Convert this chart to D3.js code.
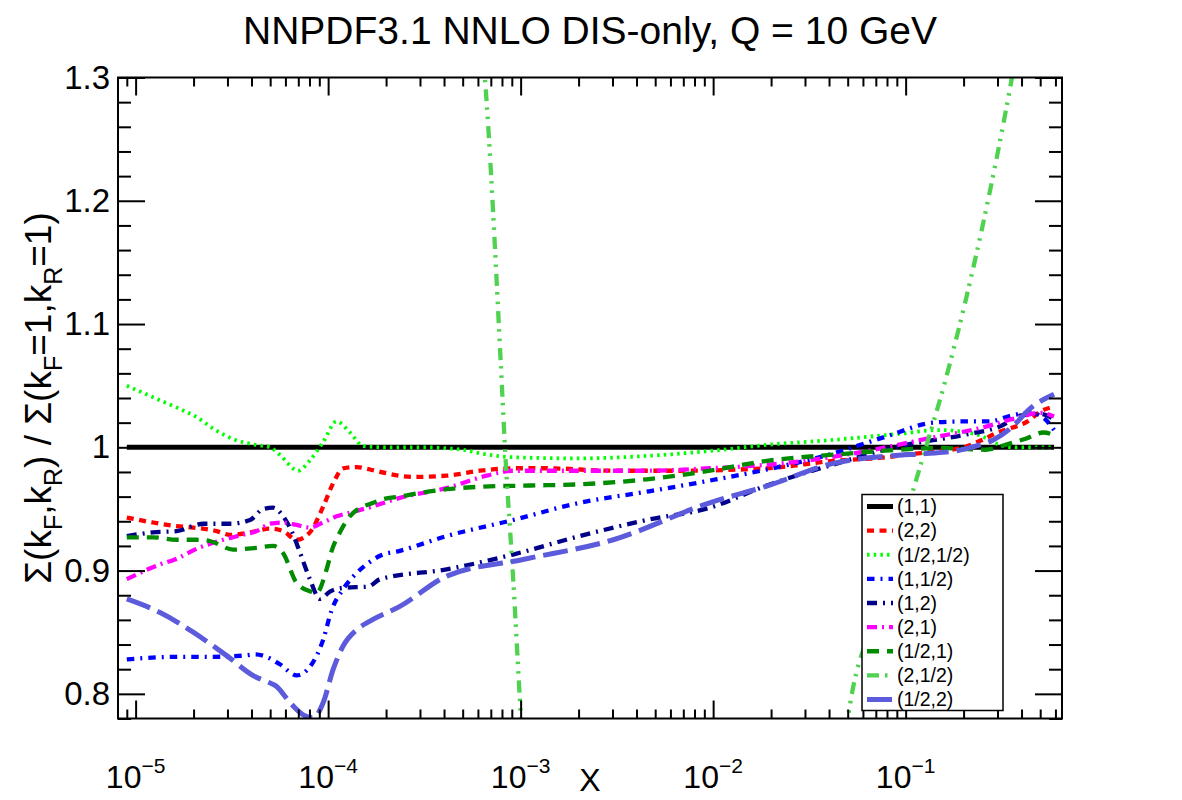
<!DOCTYPE html>
<html>
<head>
<meta charset="utf-8">
<script src="https://cdn.jsdelivr.net/npm/d3@7"></script>
<style>
  body { margin: 0; background: #fff; }
  text { font-family: "Liberation Sans", Arial, Helvetica, sans-serif; }
</style>
</head>
<body>
<div id="chart"></div>
<script>
// series: [x, ratio]
var s11 = [[9e-6, 1], [0.59, 1]];
var s22 = [[9e-6,0.943],[1.23e-5,0.939],[1.63e-5,0.936],[1.95e-5,0.935],[2.64e-5,0.932],[3.09e-5,0.929],[3.93e-5,0.931],[4.98e-5,0.934],[5.84e-5,0.932],[6.86e-5,0.925],[8.04e-5,0.931],[9.43e-5,0.952],[1.063e-4,0.971],[1.198e-4,0.983],[1.406e-4,0.984],[1.649e-4,0.982],[2.0e-4,0.979],[2.76e-4,0.976],[4.13e-4,0.977],[6.15e-4,0.981],[9.12e-4,0.983],[1.37e-3,0.983],[3.03e-3,0.981],[6.72e-3,0.981],[1.9e-2,0.983],[4.2e-2,0.989],[8.0e-2,0.992],[0.1,0.994],[0.15,0.997],[0.2,1.0],[0.25,1.006],[0.3,1.012],[0.36,1.016],[0.43,1.021],[0.5,1.029],[0.59,1.033]];
var sHH = [[9e-6,1.050],[1.3e-5,1.039],[1.65e-5,1.032],[2.1e-5,1.024],[2.6e-5,1.014],[3.3e-5,1.006],[4.2e-5,1.002],[5.0e-5,1.0],[5.6e-5,0.994],[7.0e-5,0.981],[8.0e-5,0.989],[9.4e-5,1.004],[1.107e-4,1.021],[1.3e-4,1.012],[1.52e-4,1.001],[2.0e-4,1.0],[3.0e-4,1.0],[5.0e-4,0.998],[6.2e-4,0.995],[9e-4,0.992],[2.0e-3,0.991],[4.5e-3,0.993],[9.6e-3,0.997],[1.9e-2,1.002],[4.2e-2,1.006],[9.3e-2,1.011],[0.15,1.014],[0.24,1.010],[0.285,1.004],[0.36,1.0],[0.59,1.0]];
var s1H = [[9e-6,0.828],[1.63e-5,0.830],[2.43e-5,0.830],[3.62e-5,0.831],[4.17e-5,0.832],[4.79e-5,0.830],[5.62e-5,0.824],[6.86e-5,0.815],[8.04e-5,0.822],[9.43e-5,0.844],[1.043e-4,0.868],[1.198e-4,0.885],[1.406e-4,0.898],[1.616e-4,0.906],[1.86e-4,0.912],[2.36e-4,0.916],[4.13e-4,0.928],[9.12e-4,0.941],[2.03e-3,0.955],[4.51e-3,0.964],[9.6e-3,0.973],[1.9e-2,0.982],[4.2e-2,0.995],[8.0e-2,1.009],[0.139,1.020],[0.2,1.021],[0.27,1.021],[0.36,1.026],[0.44,1.028],[0.52,1.024],[0.59,1.014]];
var s12 = [[9e-6,0.928],[1.23e-5,0.931],[1.63e-5,0.932],[2.25e-5,0.938],[3.09e-5,0.938],[3.93e-5,0.941],[4.6e-5,0.950],[5.18e-5,0.951],[5.84e-5,0.944],[6.46e-5,0.932],[7.13e-5,0.915],[8.04e-5,0.893],[9.06e-5,0.877],[1.022e-4,0.883],[1.198e-4,0.886],[1.616e-4,0.887],[1.86e-4,0.893],[4.13e-4,0.901],[9.12e-4,0.913],[2.03e-3,0.928],[4.51e-3,0.941],[9.6e-3,0.951],[1.9e-2,0.969],[4.2e-2,0.986],[9.3e-2,1.001],[0.2,1.010],[0.31,1.017],[0.4,1.026],[0.5,1.027],[0.59,1.023]];
var s21 = [[9e-6,0.893],[1.34e-5,0.905],[1.6e-5,0.909],[2.1e-5,0.918],[2.85e-5,0.925],[3.6e-5,0.929],[4.25e-5,0.932],[5.0e-5,0.938],[5.84e-5,0.939],[6.86e-5,0.937],[8.04e-5,0.935],[9.4e-5,0.939],[1.107e-4,0.944],[1.3e-4,0.947],[1.62e-4,0.951],[2.36e-4,0.959],[4.13e-4,0.967],[6.66e-4,0.977],[9.12e-4,0.981],[2.03e-3,0.981],[4.51e-3,0.981],[9.6e-3,0.983],[2.3e-2,0.987],[6.3e-2,0.997],[0.139,1.008],[0.25,1.016],[0.38,1.024],[0.5,1.028],[0.59,1.025]];
var sH1 = [[9e-6,0.927],[1.23e-5,0.927],[1.63e-5,0.925],[2.07e-5,0.925],[2.43e-5,0.924],[3.21e-5,0.917],[4.25e-5,0.9185],[5.18e-5,0.920],[5.84e-5,0.914],[6.86e-5,0.890],[8.04e-5,0.8833],[8.72e-5,0.882],[9.82e-5,0.901],[1.043e-4,0.916],[1.152e-4,0.931],[1.297e-4,0.944],[1.52e-4,0.952],[1.65e-4,0.954],[1.93e-4,0.958],[2.36e-4,0.960],[2.76e-4,0.962],[4.13e-4,0.966],[6.15e-4,0.968],[1.117e-3,0.969],[2.03e-3,0.970],[4.51e-3,0.974],[9.6e-3,0.981],[1.9e-2,0.989],[4.2e-2,0.994],[9.3e-2,0.998],[0.15,0.9995],[0.26,0.998],[0.33,1.002],[0.42,1.007],[0.52,1.012],[0.59,1.010]];
var s2H = [[5.8e-4,1.38],[6.52e-4,1.3],[7.96e-4,1.0555],[8.29e-4,1.0],[9.15e-4,0.893],[1.004e-3,0.78],[1.08e-3,0.70],[3e-3,0.35],[0.02,0.40],[0.044,0.70],[0.0501,0.78],[0.0735,0.871],[0.1117,0.970],[0.1275,1.0],[0.1581,1.050],[0.2056,1.120],[0.2676,1.200],[0.3566,1.3],[0.40,1.345]];
var sH2 = [[9e-6,0.877],[1.34e-5,0.866],[1.99e-5,0.850],[2.97e-5,0.831],[4.17e-5,0.814],[4.79e-5,0.810],[5.4e-5,0.806],[6.33e-5,0.793],[7.42e-5,0.783],[8.37e-5,0.7806],[9.43e-5,0.793],[1.063e-4,0.820],[1.198e-4,0.839],[1.406e-4,0.852],[1.649e-4,0.859],[2.36e-4,0.871],[4.13e-4,0.8955],[1.03e-3,0.909],[3.03e-3,0.925],[9.6e-3,0.955],[1.9e-2,0.9685],[4.2e-2,0.987],[8.3e-2,0.993],[0.1285,0.995],[0.18,0.997],[0.243,1.002],[0.285,1.006],[0.36,1.017],[0.44,1.031],[0.59,1.043]];

var labels = ["(1,1)", "(2,2)", "(1/2,1/2)", "(1,1/2)", "(1,2)", "(2,1)", "(1/2,1)", "(2,1/2)", "(1/2,2)"];
var seriesData = [s11, s22, sHH, s1H, s12, s21, sH1, s2H, sH2];
var colors = ["#000000", "#ff0000", "#00ff00", "#0000ff", "#00008b", "#ff00ff", "#008b00", "#4fd24f", "#5b5bdc"];
var dashes = ["none", "7,5.5", "2.5,4.2", "7.5,6,2,6", "10,6,2,6", "10,5,2,5", "12,8", "12,6,2.5,7,2.5,7", "25,8"];
var widths = [5, 4.3, 3.8, 4.3, 4.3, 4.3, 4.3, 4.3, 5];

var xMajor = [1e-5, 1e-4, 1e-3, 1e-2, 1e-1];
var expLabels = ["\u22125", "\u22124", "\u22123", "\u22122", "\u22121"];
var yMajor = [0.8, 0.9, 1.0, 1.1, 1.2, 1.3];
var yLabels = ["0.8", "0.9", "1", "1.1", "1.2", "1.3"];

var W = 1182, H = 800;
var margin = {top: 77.5, right: 120, bottom: 81.5, left: 118};

var svg = d3.select("#chart").append("svg")
  .attr("width", W)
  .attr("height", H);

var x = d3.scaleLog()
  .domain([8.1e-6, 0.649])
  .range([margin.left, W - margin.right]);
var y = d3.scaleLinear()
  .domain([0.78, 1.3])
  .range([H - margin.bottom, margin.top]);

// minor ticks
var xMinor = [];
[1e-6, 1e-5, 1e-4, 1e-3, 1e-2, 1e-1].forEach(function(d) {
  for (var k = 2; k <= 9; k++) {
    var v = d * k;
    if (v > x.domain()[0] && v < x.domain()[1]) xMinor.push(v);
  }
});
var yMinor = d3.range(0.78, 1.301, 0.02).filter(function(v) {
  return Math.abs(Math.round(v * 10) - v * 10) > 1e-6;
});

svg.append("clipPath").attr("id", "plotclip")
  .append("rect")
  .attr("x", margin.left).attr("y", margin.top)
  .attr("width", x.range()[1] - margin.left)
  .attr("height", y.range()[0] - margin.top);

var line = d3.line()
  .x(function(d) { return x(d[0]); })
  .y(function(d) { return y(d[1]); })
  .curve(d3.curveMonotoneX);

svg.append("g").attr("clip-path", "url(#plotclip)")
  .selectAll("path")
  .data(seriesData)
  .enter().append("path")
  .attr("d", line)
  .attr("fill", "none")
  .attr("stroke", function(d, i) { return colors[i]; })
  .attr("stroke-width", function(d, i) { return widths[i]; })
  .attr("stroke-dasharray", function(d, i) { return dashes[i]; });

// axes, ticks pointing inward on all four sides
function styleAxis(g) {
  g.select(".domain").remove();
  g.selectAll("line").attr("stroke", "#000").attr("stroke-width", 2);
}

svg.append("g")
  .attr("transform", "translate(0," + y.range()[0] + ")")
  .call(d3.axisBottom(x).tickValues(xMinor).tickSize(-9).tickFormat(""))
  .call(styleAxis);
svg.append("g")
  .attr("transform", "translate(0," + y.range()[0] + ")")
  .call(d3.axisBottom(x).tickValues(xMajor).tickSize(-18).tickFormat(""))
  .call(styleAxis);
svg.append("g")
  .attr("transform", "translate(0," + margin.top + ")")
  .call(d3.axisTop(x).tickValues(xMinor).tickSize(-9).tickFormat(""))
  .call(styleAxis);
svg.append("g")
  .attr("transform", "translate(0," + margin.top + ")")
  .call(d3.axisTop(x).tickValues(xMajor).tickSize(-18).tickFormat(""))
  .call(styleAxis);

svg.append("g")
  .attr("transform", "translate(" + margin.left + ",0)")
  .call(d3.axisLeft(y).tickValues(yMinor).tickSize(-13).tickFormat(""))
  .call(styleAxis);
var yl = svg.append("g")
  .attr("transform", "translate(" + margin.left + ",0)")
  .call(d3.axisLeft(y).tickValues(yMajor).tickSize(-27).tickPadding(8)
    .tickFormat(function(d, i) { return yLabels[i]; }))
  .call(styleAxis);
yl.selectAll("text").attr("font-size", 33).attr("fill", "#000")
  .attr("font-family", "'Liberation Sans', Arial, sans-serif");
svg.append("g")
  .attr("transform", "translate(" + x.range()[1] + ",0)")
  .call(d3.axisRight(y).tickValues(yMinor).tickSize(-13).tickFormat(""))
  .call(styleAxis);
svg.append("g")
  .attr("transform", "translate(" + x.range()[1] + ",0)")
  .call(d3.axisRight(y).tickValues(yMajor).tickSize(-27).tickFormat(""))
  .call(styleAxis);

// x tick labels: 10 with exponent
xMajor.forEach(function(v, i) {
  var t = svg.append("text")
    .attr("x", x(v))
    .attr("y", 788)
    .attr("text-anchor", "middle")
    .attr("font-size", 32);
  t.append("tspan").text("10");
  t.append("tspan").attr("dy", -15).attr("font-size", 21).text(expLabels[i]);
});

// frame
svg.append("rect")
  .attr("x", margin.left).attr("y", margin.top)
  .attr("width", x.range()[1] - margin.left)
  .attr("height", y.range()[0] - margin.top)
  .attr("fill", "none").attr("stroke", "#000").attr("stroke-width", 2);

// title
svg.append("text")
  .attr("x", 590).attr("y", 44)
  .attr("text-anchor", "middle")
  .attr("font-size", 39)
  .text("NNPDF3.1 NNLO DIS-only, Q = 10 GeV");

// x title
svg.append("text")
  .attr("x", 590).attr("y", 791)
  .attr("text-anchor", "middle")
  .attr("font-size", 32)
  .text("X");

// y title with subscripts
var yt = svg.append("text")
  .attr("transform", "translate(51,398) rotate(-90)")
  .attr("text-anchor", "middle")
  .attr("font-size", 37);
var parts = [["\u03a3(k", 0], ["F", 1], [",k", 0], ["R", 1], [") / \u03a3(k", 0], ["F", 1], ["=1,k", 0], ["R", 1], ["=1)", 0]];
parts.forEach(function(p, i) {
  var ts = yt.append("tspan").text(p[0]);
  if (p[1]) ts.attr("font-size", 25).attr("dy", 11);
  else if (i > 0) ts.attr("dy", -11);
});

// legend
var lg = svg.append("g");
lg.append("rect")
  .attr("x", 862).attr("y", 494.5)
  .attr("width", 141).attr("height", 216)
  .attr("fill", "#fff").attr("stroke", "#000").attr("stroke-width", 1.5);
var ly = d3.scaleLinear().domain([0, labels.length - 1]).range([506.5, 699.5]);
labels.forEach(function(lab, i) {
  lg.append("line")
    .attr("x1", 867).attr("x2", 893)
    .attr("y1", ly(i)).attr("y2", ly(i))
    .attr("stroke", colors[i])
    .attr("stroke-width", widths[i])
    .attr("stroke-dasharray", dashes[i]);
  lg.append("text")
    .attr("x", 897).attr("y", ly(i))
    .attr("dy", "0.35em")
    .attr("font-size", 19.5)
    .text(lab);
});
</script>
</body>
</html>
